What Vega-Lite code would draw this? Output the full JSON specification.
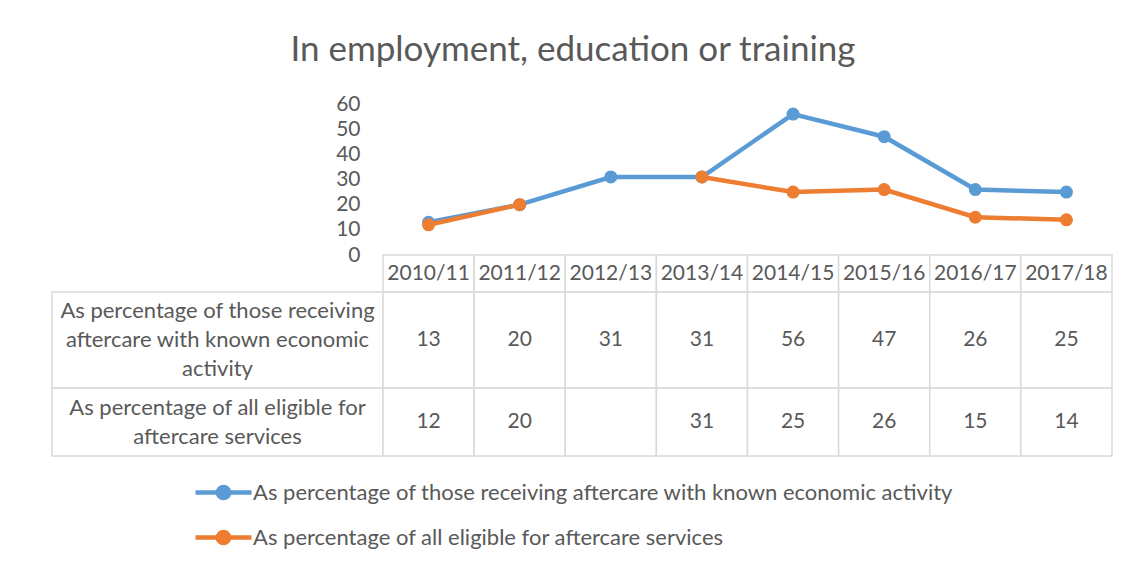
{
  "$schema": "https://vega.github.io/schema/vega-lite/v6.json",
  "background": "white",
  "padding": {"left": 51, "top": 33, "right": 5, "bottom": 5},
  "title": {"text": "In employment, education or training", "fontSize": 35, "font": "Lato", "fontWeight": "normal", "color": "#595959", "anchor": "middle", "offset": 25, "dx": -9},
  "datasets": {
    "vals": [
      {"year": "2010/11", "series": "As percentage of those receiving aftercare with known economic activity", "value": 13},
      {"year": "2011/12", "series": "As percentage of those receiving aftercare with known economic activity", "value": 20},
      {"year": "2012/13", "series": "As percentage of those receiving aftercare with known economic activity", "value": 31},
      {"year": "2013/14", "series": "As percentage of those receiving aftercare with known economic activity", "value": 31},
      {"year": "2014/15", "series": "As percentage of those receiving aftercare with known economic activity", "value": 56},
      {"year": "2015/16", "series": "As percentage of those receiving aftercare with known economic activity", "value": 47},
      {"year": "2016/17", "series": "As percentage of those receiving aftercare with known economic activity", "value": 26},
      {"year": "2017/18", "series": "As percentage of those receiving aftercare with known economic activity", "value": 25},
      {"year": "2010/11", "series": "As percentage of all eligible for aftercare services", "value": 12},
      {"year": "2011/12", "series": "As percentage of all eligible for aftercare services", "value": 20},
      {"year": "2012/13", "series": "As percentage of all eligible for aftercare services", "value": null},
      {"year": "2013/14", "series": "As percentage of all eligible for aftercare services", "value": 31},
      {"year": "2014/15", "series": "As percentage of all eligible for aftercare services", "value": 25},
      {"year": "2015/16", "series": "As percentage of all eligible for aftercare services", "value": 26},
      {"year": "2016/17", "series": "As percentage of all eligible for aftercare services", "value": 15},
      {"year": "2017/18", "series": "As percentage of all eligible for aftercare services", "value": 14}
    ],
    "rows": [
      {"series": "As percentage of those receiving aftercare with known economic activity", "label": "As percentage of those receiving\naftercare with known economic\nactivity"},
      {"series": "As percentage of all eligible for aftercare services", "label": "As percentage of all eligible for\naftercare services"}
    ]
  },
  "columns": 2,
  "spacing": 0,
  "bounds": "flush",
  "align": "each",
  "concat": [
    {
      "width": 331, "height": 151,
      "data": {"values": []},
      "mark": "point"
    },
    {
      "width": 729, "height": 151,
      "data": {"name": "vals"},
      "encoding": {
        "x": {"field": "year", "type": "ordinal", "scale": {"type": "point", "padding": 0.5}, "axis": null},
        "y": {"field": "value", "type": "quantitative", "scale": {"domain": [0, 60], "nice": false},
              "axis": {"values": [0, 10, 20, 30, 40, 50, 60], "grid": false, "domain": false, "ticks": false, "title": null,
                       "labelFontSize": 21, "labelFont": "Lato", "labelColor": "#595959", "labelPadding": 23}},
        "color": {"field": "series", "type": "nominal",
                  "scale": {"domain": ["As percentage of those receiving aftercare with known economic activity", "As percentage of all eligible for aftercare services"], "range": ["#5b9bd5", "#ed7d31"]},
                  "legend": {"title": null, "orient": "none", "legendX": 141, "legendY": 372, "direction": "vertical",
                             "labelFontSize": 22, "labelFont": "Lato", "labelColor": "#595959", "labelLimit": 0,
                             "symbolType": "M-2,0H2M0.4,0A0.4,0.4,0,1,1,-0.4,0A0.4,0.4,0,1,1,0.4,0Z",
                             "symbolSize": 784, "symbolOffset": 14, "labelOffset": 13, "rowPadding": 13,
                             "encode": {"symbols": {"update": {"fill": {"scale": "color", "field": "value"}, "stroke": {"scale": "color", "field": "value"}, "strokeWidth": {"value": 4.5}, "opacity": {"value": 1}}}}}}
      },
      "layer": [
        {
          "transform": [{"filter": {"field": "series", "equal": "As percentage of those receiving aftercare with known economic activity"}}],
          "mark": {"type": "line", "strokeWidth": 4.5, "invalid": "break-paths-filter-domains", "point": {"filled": true, "size": 170, "opacity": 1}}
        },
        {
          "transform": [{"filter": {"field": "series", "equal": "As percentage of all eligible for aftercare services"}}],
          "mark": {"type": "line", "strokeWidth": 4.5, "invalid": "break-paths-filter-domains", "point": {"filled": true, "size": 170, "opacity": 1}}
        }
      ]
    },
    {
      "width": 331, "height": 37,
      "data": {"values": []},
      "mark": "point"
    },
    {
      "width": 729, "height": 37,
      "data": {"name": "vals"},
      "transform": [{"filter": {"field": "series", "equal": "As percentage of those receiving aftercare with known economic activity"}}],
      "encoding": {"x": {"field": "year", "type": "ordinal", "scale": {"type": "band", "paddingInner": 0, "paddingOuter": 0}, "axis": null}},
      "layer": [
        {"mark": {"type": "rect", "fill": "white", "stroke": "#d9d9d9", "strokeWidth": 1.5}},
        {"mark": {"type": "text", "fontSize": 21, "font": "Lato", "color": "#595959"}, "encoding": {"text": {"field": "year", "type": "nominal"}}}
      ]
    },
    {
      "width": 331, "height": 96,
      "data": {"name": "rows"},
      "transform": [{"filter": {"field": "series", "equal": "As percentage of those receiving aftercare with known economic activity"}}],
      "encoding": {"x": {"field": "series", "type": "nominal", "scale": {"type": "band", "paddingInner": 0, "paddingOuter": 0}, "axis": null}},
      "layer": [
        {"mark": {"type": "rect", "fill": "white", "stroke": "#d9d9d9", "strokeWidth": 1.5}},
        {"mark": {"type": "text", "fontSize": 22, "font": "Lato", "color": "#595959", "lineBreak": "\n", "lineHeight": 29, "dy": -29}, "encoding": {"text": {"field": "label", "type": "nominal"}}}
      ]
    },
    {
      "width": 729, "height": 96,
      "data": {"name": "vals"},
      "transform": [{"filter": {"field": "series", "equal": "As percentage of those receiving aftercare with known economic activity"}}],
      "encoding": {"x": {"field": "year", "type": "ordinal", "scale": {"type": "band", "paddingInner": 0, "paddingOuter": 0}, "axis": null}},
      "layer": [
        {"mark": {"type": "rect", "fill": "white", "stroke": "#d9d9d9", "strokeWidth": 1.5}},
        {"transform": [{"filter": "isValid(datum.value)"}], "mark": {"type": "text", "fontSize": 21, "font": "Lato", "color": "#595959"}, "encoding": {"text": {"field": "value", "type": "nominal"}}}
      ]
    },
    {
      "width": 331, "height": 68,
      "data": {"name": "rows"},
      "transform": [{"filter": {"field": "series", "equal": "As percentage of all eligible for aftercare services"}}],
      "encoding": {"x": {"field": "series", "type": "nominal", "scale": {"type": "band", "paddingInner": 0, "paddingOuter": 0}, "axis": null}},
      "layer": [
        {"mark": {"type": "rect", "fill": "white", "stroke": "#d9d9d9", "strokeWidth": 1.5}},
        {"mark": {"type": "text", "fontSize": 22, "font": "Lato", "color": "#595959", "lineBreak": "\n", "lineHeight": 29, "dy": -14.5}, "encoding": {"text": {"field": "label", "type": "nominal"}}}
      ]
    },
    {
      "width": 729, "height": 68,
      "data": {"name": "vals"},
      "transform": [{"filter": {"field": "series", "equal": "As percentage of all eligible for aftercare services"}}],
      "encoding": {"x": {"field": "year", "type": "ordinal", "scale": {"type": "band", "paddingInner": 0, "paddingOuter": 0}, "axis": null}},
      "layer": [
        {"mark": {"type": "rect", "fill": "white", "stroke": "#d9d9d9", "strokeWidth": 1.5}},
        {"transform": [{"filter": "isValid(datum.value)"}], "mark": {"type": "text", "fontSize": 21, "font": "Lato", "color": "#595959"}, "encoding": {"text": {"field": "value", "type": "nominal"}}}
      ]
    }
  ],
  "config": {
    "view": {"stroke": null},
    "font": "Lato"
  }
}
